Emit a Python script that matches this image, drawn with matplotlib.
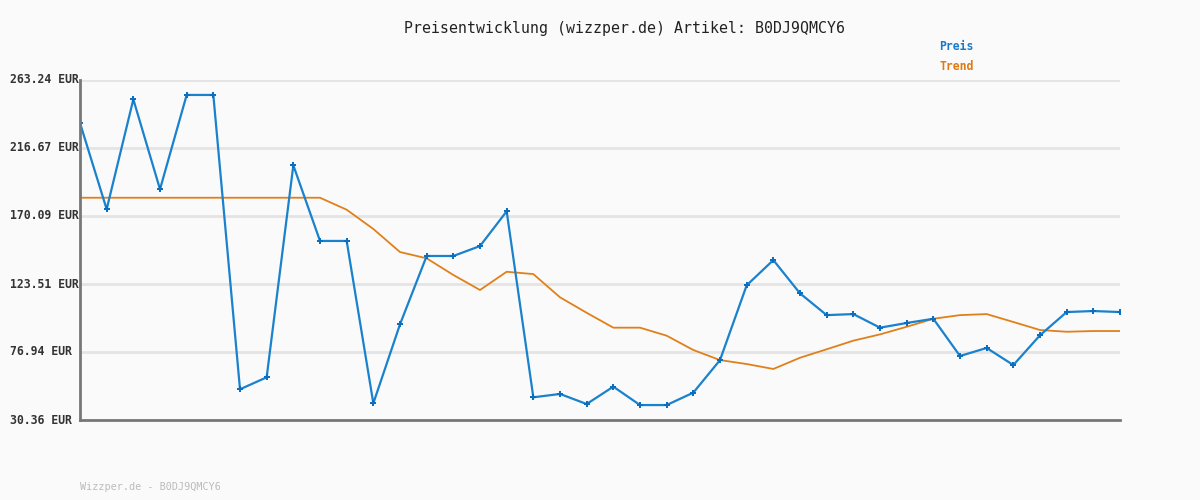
import matplotlib.pyplot as plt
import matplotlib.transforms as mtransforms
import numpy as np

# values
preis = [233.8, 174.7, 250.0, 188.4, 253.0, 253.0, 51.4, 59.6, 204.8, 153.0,
         153.0, 41.8, 95.9, 142.7, 142.7, 149.5, 173.3, 45.9, 48.2, 41.3,
         53.2, 40.6, 40.6, 49.1, 71.4, 122.6, 139.9, 117.1, 102.2, 102.9,
         93.6, 96.8, 99.7, 74.2, 79.7, 68.0, 88.4, 104.3, 105.0, 104.3]
trend = [182.6, 182.6, 182.6, 182.6, 182.6, 182.6, 182.6, 182.6, 182.6, 182.6,
         174.4, 161.2, 145.4, 141.1, 129.7, 119.4, 131.9, 130.3, 114.4, 103.8,
         93.6, 93.6, 88.1, 78.3, 71.4, 68.7, 65.3, 73.0, 78.8, 84.7,
         89.0, 94.2, 99.7, 102.2, 102.9, 97.5, 92.0, 90.8, 91.3, 91.3]
yticks = [30.36, 76.94, 123.51, 170.09, 216.67, 263.24]

bg = '#fafafa'
blue = '#1a82cc'
orange = '#e0801a'
mono = 'DejaVu Sans Mono'

fig = plt.figure(figsize=(12, 5), dpi=100, facecolor=bg)
ax = fig.add_axes([80/1200, 0.16, 1040/1200, 0.68], facecolor=bg)

x = np.arange(len(preis))
ax.plot(x, trend, color=orange, lw=1.3, zorder=3)
ax.plot(x, preis, color=blue, lw=1.6, marker='P', markersize=4,
        markerfacecolor='#0a6fc0', markeredgewidth=0, zorder=4)

ax.set_xlim(0, len(preis) - 1)
ax.set_ylim(yticks[0], yticks[-1])
ax.set_xticks([])
ax.set_yticks(yticks)
ax.set_yticklabels([])
ax.tick_params(axis='y', length=0)
ax.grid(axis='y', color='#e4e4e4', lw=2)
ax.set_axisbelow(True)

for s in ['top', 'right']:
    ax.spines[s].set_visible(False)
for s in ['left', 'bottom']:
    ax.spines[s].set_color('#777777')
    ax.spines[s].set_linewidth(2)
    ax.spines[s].set_zorder(5)

# y labels left aligned at the figure edge
trans = mtransforms.blended_transform_factory(fig.transFigure, ax.transData)
for v in yticks:
    ax.text(10/1200, v, '%.2f EUR' % v, transform=trans,
            fontsize=8.3, fontfamily=mono, fontweight='bold', color='#333333',
            ha='left', va='center')

fig.text(624/1200, 1 - 28/500, 'Preisentwicklung (wizzper.de) Artikel: B0DJ9QMCY6',
         fontsize=10.7, fontfamily=mono, color='#222222', ha='center', va='center')
fig.text(939/1200, 1 - 47/500, 'Preis', fontsize=8.3, fontfamily=mono,
         fontweight='bold', color='#1a7ac8', ha='left', va='center')
fig.text(939/1200, 1 - 67/500, 'Trend', fontsize=8.3, fontfamily=mono,
         fontweight='bold', color='#dd7a10', ha='left', va='center')
fig.text(80/1200, 1 - 487/500, 'Wizzper.de - B0DJ9QMCY6', fontsize=7.3,
         fontfamily=mono, color='#bbbbbb', ha='left', va='center')

fig.savefig('out.png', dpi=100, facecolor=bg)
